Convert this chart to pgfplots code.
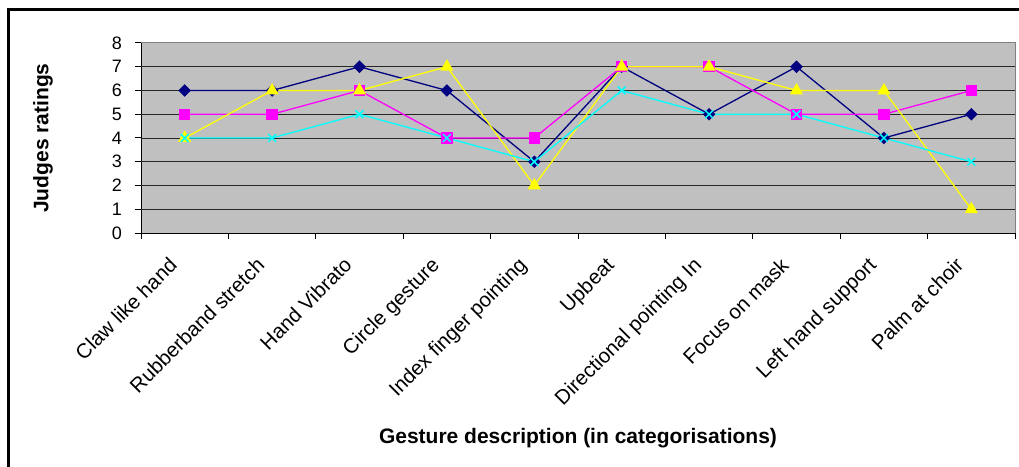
\documentclass[border=0pt]{standalone}
\usepackage{fontspec}
\setmainfont{Liberation Sans}
\usepackage{pgfplots}
\pgfplotsset{compat=1.18}
\definecolor{plotbg}{HTML}{C0C0C0}
\definecolor{sNavy}{HTML}{000080}
\definecolor{sMag}{HTML}{FF00FF}
\definecolor{sYel}{HTML}{FFFF00}
\definecolor{sCyan}{HTML}{00FFFF}
\begin{document}
\begin{tikzpicture}
\path[use as bounding box] (0,0) rectangle (1019bp,467bp);
\draw[line width=2.5bp] (8.7bp,0bp) -- (8.7bp,457.3bp) -- (1019bp,457.3bp);
\begin{axis}[
  at={(141bp,234bp)}, anchor=south west,
  scale only axis, width=874bp, height=190bp,
  xmin=0.5, xmax=10.5, ymin=0, ymax=8,
  axis background/.style={fill=plotbg, draw=gray, line width=1bp},
  axis x line*=bottom, axis y line*=left,
  axis line style={black, line width=1bp},
  tick align=outside, major tick length=6bp,
  every tick/.style={black, line width=1bp},
  /pgf/number format/assume math mode=true,
  ytick={0,...,8},
  yticklabel style={font=\fontsize{18bp}{21bp}\selectfont, anchor=east, inner sep=0pt, xshift=-13bp},
  extra y ticks={1,...,7},
  extra y tick labels={},
  extra y tick style={major tick length=0pt, grid=major, major grid style={black!85, line width=0.8bp}},
  xtick={0.5,1.5,...,10.5},
  xticklabels={},
  extra x ticks={1,...,10},
  extra x tick labels={Claw like hand,Rubberband stretch,Hand Vibrato,Circle gesture,Index finger pointing,Upbeat,Directional pointing In,Focus on mask,Left hand support,Palm at choir},
  extra x tick style={major tick length=0pt},
  xticklabel style={font=\fontsize{20.5bp}{24bp}\selectfont, xshift=-17bp, yshift=-23bp, rotate=45, anchor=north east, inner sep=0pt},
  ylabel={Judges ratings},
  ylabel style={at={(axis description cs:-0.1121,0.5)}, anchor=center, font=\bfseries\fontsize{21bp}{25bp}\selectfont},
  xlabel={Gesture description (in categorisations)},
  xlabel style={at={(axis description cs:0.5,-1.079)}, anchor=center, font=\bfseries\fontsize{21bp}{25bp}\selectfont},
  clip=false,
]
\addplot[sNavy, line width=1.3bp, mark=square*, mark size=3.8bp, mark options={rotate=45, fill=sNavy, draw=sNavy}]
  coordinates {(1,6) (2,6) (3,7) (4,6) (5,3) (6,7) (7,5) (8,7) (9,4) (10,5)};
\addplot[sMag, line width=1.3bp, mark=square*, mark size=5bp, mark options={fill=sMag, draw=sMag}]
  coordinates {(1,5) (2,5) (3,6) (4,4) (5,4) (6,7) (7,7) (8,5) (9,5) (10,6)};
\addplot[sYel, line width=1.3bp, mark=triangle*, mark size=6.3bp, mark options={fill=sYel, draw=sYel}]
  coordinates {(1,4) (2,6) (3,6) (4,7) (5,2) (6,7) (7,7) (8,6) (9,6) (10,1)};
\addplot[sCyan, line width=1.3bp, mark=x, mark size=5.5bp, mark options={line width=1.5bp}]
  coordinates {(1,4) (2,4) (3,5) (4,4) (5,3) (6,6) (7,5) (8,5) (9,4) (10,3)};
\end{axis}
\end{tikzpicture}
\end{document}
